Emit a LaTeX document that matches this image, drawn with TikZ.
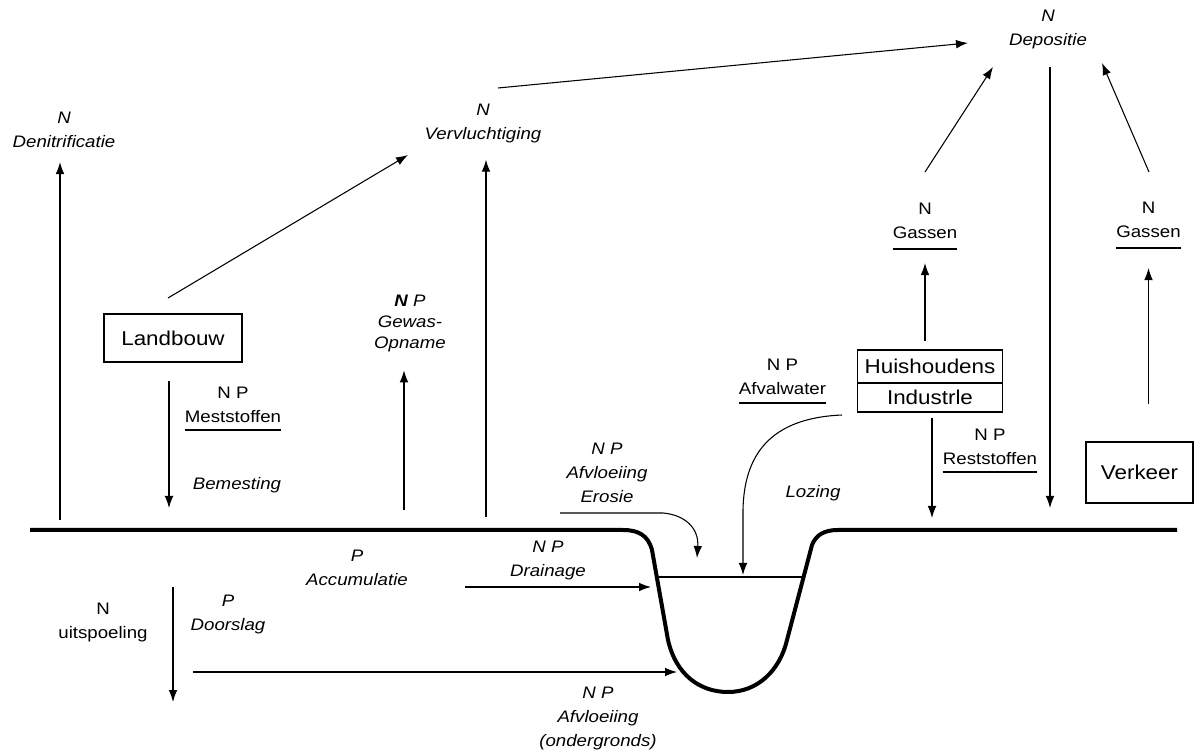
\documentclass[tikz,border=0pt]{standalone}
\usepackage{fontspec}
\setmainfont{Liberation Sans}[FakeStretch=1.12]
\usetikzlibrary{arrows.meta,positioning}

\tikzset{
  pijl/.style={-{Latex[length=9pt,width=6.5pt]}, line width=0.8pt},
  lijn/.style={line width=0.8pt},
  grond/.style={line width=3pt, line join=round},
  stroom/.style={align=center, inner xsep=0pt, inner ysep=2pt,
    font=\fontsize{12.5}{18}\selectfont\itshape},
  stof/.style={align=center, inner xsep=0pt, inner ysep=2pt,
    font=\fontsize{12.5}{18}\selectfont},
  bron/.style={draw, line width=0.8pt, inner sep=0pt,
    font=\fontsize{15}{18}\selectfont},
}

\begin{document}
\begin{tikzpicture}[x=0.75pt,y=-0.75pt]
    \useasboundingbox (0,0) rectangle (1204,755);

    % bronnen
    \node[bron, minimum width=103.5pt, minimum height=36pt] (land) at (173,338) {Landbouw};
    \node[bron, minimum width=108.75pt, minimum height=24.75pt] (huis) at (930,366.5) {Huishoudens};
    \node[bron, minimum width=108.75pt, minimum height=21.75pt] (ind) at (930,397.5) {Industrle};
    \node[bron, minimum width=80.25pt, minimum height=45.75pt] (verk) at (1139.5,472.5) {Verkeer};

    % stromen en stoffen
    \node[stroom] (den) at (64,130) {N\\Denitrificatie};
    \node[stroom] (verv) at (483,124) {N\\Vervluchtiging};
    \node[stroom] (depo) at (1048,30) {N\\Depositie};
    \node[stroom, font=\fontsize{12.5}{15.75}\selectfont\itshape] (gewas) at (410,323) {\textbf{N} P\\Gewas-\\Opname};
    \node[stof] (mest) at (233,405) {N P\\Meststoffen};
    \node[stroom] (bem) at (237,485) {Bemesting};
    \node[stroom] (accu) at (357,568) {P\\Accumulatie};
    \node[stroom] (drain) at (548,560) {N P\\Drainage};
    \node[stof] (uitsp) at (103,622) {N\\uitspoeling};
    \node[stroom] (doorsl) at (228,614) {P\\Doorslag};
    \node[stroom] (afvond) at (598,718) {N P\\Afvloeiing\\(ondergronds)};
    \node[stroom] (eros) at (607,473) {N P\\Afvloeiing\\Erosie};
    \node[stof] (afvw) at (782.5,377) {N P\\Afvalwater};
    \node[stroom] (loz) at (813,493) {Lozing};
    \node[stof] (gas1) at (925,221) {N\\Gassen};
    \node[stof] (gas2) at (1148.5,220) {N\\Gassen};
    \node[stof] (rest) at (990,447) {N P\\Reststoffen};

    % onderstrepingen
    \draw[lijn] (mest.west |- 0,430) -- (mest.east |- 0,430);
    \draw[lijn] (afvw.west |- 0,403) -- (afvw.east |- 0,403);
    \draw[lijn] (gas1.west |- 0,249) -- (gas1.east |- 0,249);
    \draw[lijn] (gas2.west |- 0,248) -- (gas2.east |- 0,248);
    \draw[lijn] (rest.west |- 0,472) -- (rest.east |- 0,472);

    % maaiveld en sloot
    \draw[grond] (30,530) -- (623,530)
        .. controls (638,530) and (648,535) .. (652,550)
        -- (668,640)
        .. controls (676,675) and (700,692) .. (728,692)
        .. controls (758,692) and (780,670) .. (787,640)
        -- (812,545)
        .. controls (816,535) and (824,530) .. (838,530)
        -- (1177,530);
    \coordinate (water-l) at (657,577);
    \coordinate (water-r) at (804,577);
    \draw[lijn] (water-l) -- (water-r);

    % voetpunten en losse eindpunten
    \coordinate (den-voet) at (60,520);
    \coordinate (verv-voet) at (486,517);
    \coordinate (gewas-voet) at (404,510);
    \coordinate (mest-voet) at (169,508);
    \coordinate (depo-voet) at (1050,508);
    \coordinate (rest-voet) at (932,518);
    \coordinate (land-uit) at (168,298);
    \coordinate (verv-in) at (408,155);
    \coordinate (verv-uit) at (498,88);
    \coordinate (depo-in) at (968,43);
    \coordinate (gas1-uit) at (925,172);
    \coordinate (depo-in1) at (993,67);
    \coordinate (gas2-uit) at (1149,172);
    \coordinate (depo-in2) at (1102,63);
    \coordinate (uitsp-top) at (173,587);
    \coordinate (uitsp-voet) at (173,702);
    \coordinate (onder-uit) at (193,672);
    \coordinate (onder-in) at (677,672);
    \coordinate (drain-uit) at (465,587);
    \coordinate (drain-in) at (651,587);
    \coordinate (eros-uit) at (560,513);
    \coordinate (eros-in) at (697,558);
    \coordinate (loz-uit) at (842,415);
    \coordinate (loz-in) at (743,575);

    % pijlen naar boven
    \draw[pijl, shorten >=8.5pt] (den-voet) -- (den-voet |- den.south);
    \draw[pijl, shorten >=10pt] (verv-voet) -- (verv-voet |- verv.south);
    \draw[pijl, shorten >=12pt] (gewas-voet) -- (gewas-voet |- gewas.south);
    \draw[pijl] (land-uit) -- (verv-in);
    \draw[pijl] (verv-uit) -- (depo-in);
    \draw[pijl, shorten <=6pt, shorten >=16pt] (gas1.south |- huis.north) -- (gas1.south);
    \draw[pijl] (gas1-uit) -- (depo-in1);
    \draw[pijl, shorten <=28pt, shorten >=20.5pt] (gas2.south |- verk.north) -- (gas2.south);
    \draw[pijl] (gas2-uit) -- (depo-in2);

    % pijlen naar beneden
    \draw[pijl, shorten <=13.5pt] (mest-voet |- land.south) -- (mest-voet);
    \draw[pijl, shorten <=11pt] (depo-voet |- depo.south) -- (depo-voet);
    \draw[pijl, shorten <=3.75pt] (rest-voet |- ind.south) -- (rest-voet);
    \draw[pijl] (uitsp-top) -- (uitsp-voet);

    % naar de sloot
    \draw[pijl] (onder-uit) -- (onder-in);
    \draw[pijl] (drain-uit) -- (drain-in);
    \draw[pijl] (eros-uit) -- (663,513) .. controls (685,515) and (699,528) .. (eros-in);
    \draw[pijl] (loz-uit) .. controls (770,418) and (744,455) .. (743,510) -- (loz-in);
\end{tikzpicture}
\end{document}
